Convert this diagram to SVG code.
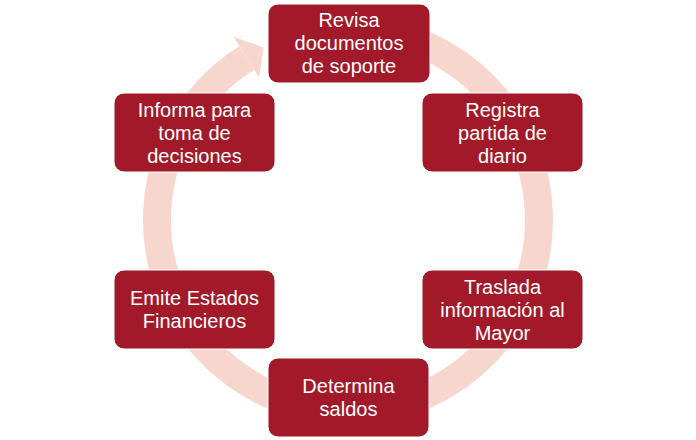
<svg xmlns="http://www.w3.org/2000/svg" width="696" height="440" viewBox="0 0 696 440">
<style>
.box{fill:#A21A29;stroke:#ffffff;stroke-width:1}
.t{font-family:"Liberation Sans",Arial,sans-serif;font-size:20px;fill:#ffffff;text-anchor:middle}
.ring{fill:none;stroke:#F7D7CD;stroke-width:28}
.head{fill:#F7D7CD}
</style>
<rect width="696" height="440" fill="#ffffff"/>
<g id="connectors">
<path class="ring" d="M 364.6 29.7 A 191 191 0 1 1 246.8 58.0"/>
<polygon class="head" points="233.5,36.8 263.8,47.4 259.0,77.5"/>
</g>
<g id="n1"><rect class="box" x="268" y="4" width="162" height="79" rx="10"/>
<text class="t" x="349" y="27">Revisa</text><text class="t" x="349" y="50">documentos</text><text class="t" x="349" y="73">de soporte</text></g>
<g id="n2"><rect class="box" x="422" y="93" width="161" height="79" rx="10"/>
<text class="t" x="502.5" y="116.5">Registra</text><text class="t" x="502.5" y="139.5">partida de</text><text class="t" x="502.5" y="162.5">diario</text></g>
<g id="n3"><rect class="box" x="422" y="270" width="161" height="79" rx="10"/>
<text class="t" x="502.5" y="293.5">Traslada</text><text class="t" x="502.5" y="316.5">información al</text><text class="t" x="502.5" y="339.5">Mayor</text></g>
<g id="n4"><rect class="box" x="268" y="358" width="161" height="79" rx="10"/>
<text class="t" x="348.5" y="393">Determina</text><text class="t" x="348.5" y="416">saldos</text></g>
<g id="n5"><rect class="box" x="114" y="270" width="161" height="79" rx="10"/>
<text class="t" x="194.5" y="305">Emite Estados</text><text class="t" x="194.5" y="328">Financieros</text></g>
<g id="n6"><rect class="box" x="114" y="93" width="161" height="79" rx="10"/>
<text class="t" x="194.5" y="116.5">Informa para</text><text class="t" x="194.5" y="139.5">toma de</text><text class="t" x="194.5" y="162.5">decisiones</text></g>
</svg>
